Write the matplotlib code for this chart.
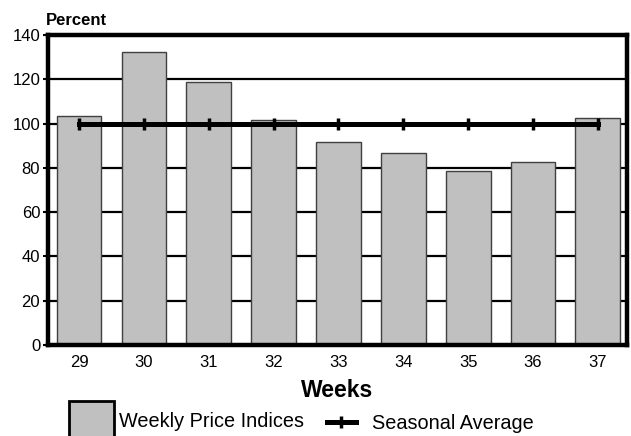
import matplotlib.pyplot as plt
from matplotlib.lines import Line2D
from matplotlib.patches import Patch

plt.rcParams['font.family'] = ['Liberation Sans', 'DejaVu Sans']

weeks = ['29', '30', '31', '32', '33', '34', '35', '36', '37']
price_index = [103.6, 132.3, 118.6, 101.6, 91.6, 86.6, 78.6, 82.6, 102.6]
seasonal_avg = [100, 100, 100, 100, 100, 100, 100, 100, 100]
yticks = [0, 20, 40, 60, 80, 100, 120, 140]

fig = plt.figure(figsize=(6.31, 4.36), dpi=100)
ax = fig.add_axes([48 / 631, 1 - 345 / 436, 579 / 631, 310 / 436])

x = range(len(weeks))
ax.bar(x, price_index, width=0.69, color='#c0c0c0', edgecolor='#404040',
       linewidth=1.0, zorder=2)
ax.plot(x, seasonal_avg, color='black', linewidth=3.6, marker='|',
        markersize=8, markeredgewidth=2.5, zorder=3)

ax.set_xlim(-0.48, 8.45)
ax.set_ylim(0, 140)
ax.set_yticks(yticks)
ax.set_xticks(list(x))
ax.set_xticklabels(weeks)
ax.yaxis.grid(True, color='black', linewidth=1.6)
ax.set_axisbelow(True)

for s in ax.spines.values():
    s.set_linewidth(3.2)
    s.set_zorder(4)
ax.tick_params(axis='y', direction='out', length=3.6, width=1.5, pad=2,
               labelsize=12)
ax.tick_params(axis='x', length=0, pad=7.5, labelsize=12)

ax.set_xlabel('Weeks', fontsize=16.5, fontweight='bold', labelpad=6.5)
fig.text(46 / 631, 1 - 25 / 436, 'Percent', fontsize=12, fontweight='bold',
         va='baseline')

# two separate legends so each handle can have its own size
fs = 14.3
bar_handle = Patch(facecolor='#c0c0c0', edgecolor='black', linewidth=2)
fig.legend([bar_handle], ['Weekly Price Indices'], loc='upper left',
           bbox_to_anchor=(69 / 631, 1 - 401 / 436), frameon=False,
           fontsize=fs, handlelength=2.25, handleheight=2.8,
           handletextpad=0.25, borderpad=0, borderaxespad=0)
line_handle = Line2D([], [], color='black', linewidth=3.6, marker='|',
                     markersize=8, markeredgewidth=2.5)
fig.legend([line_handle], ['Seasonal Average'], loc='center left',
           bbox_to_anchor=(327 / 631, 1 - 423 / 436), frameon=False,
           fontsize=fs, handlelength=1.45, handletextpad=0.8, borderpad=0,
           borderaxespad=0, numpoints=1)

fig.savefig('out.png', dpi=100)
